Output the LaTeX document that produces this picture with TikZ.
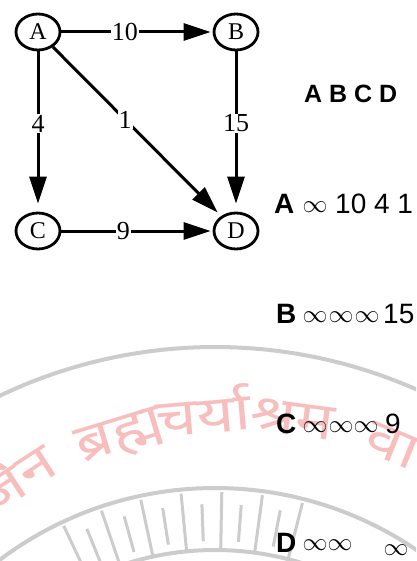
\documentclass[tikz,border=0pt]{standalone}
\usepackage{fontspec}
\newfontfamily\tabfont{Liberation Sans}
\newfontfamily\grfont{Liberation Serif}
\newfontfamily\devafont[Script=Devanagari,FakeStretch=1.25]{Noto Sans}
\usetikzlibrary{arrows.meta,shapes.geometric}
\definecolor{wmgray}{RGB}{204,204,204}
\definecolor{wmpink}{RGB}{248,190,190}
\begin{document}
\begin{tikzpicture}[x=1pt,y=-1pt,
  vtx/.style={draw, ellipse, line width=2.8pt, minimum width=44pt, minimum height=36pt, inner sep=0pt, font=\grfont\fontsize{24}{24}\selectfont},
  edge/.style={line width=3pt, -{Triangle[length=27pt,width=17pt]}},
  lbl/.style={fill=white, inner sep=1pt, font=\grfont\fontsize{26}{26}\selectfont},
  tabhd/.style={font=\tabfont\bfseries\fontsize{25}{25}\selectfont, inner sep=0pt, anchor=base west},
  tabrow/.style={font=\tabfont\bfseries\fontsize{28}{28}\selectfont, inner sep=0pt, anchor=base west},
  tabnum/.style={font=\tabfont\fontsize{28}{28}\selectfont, inner sep=0pt, anchor=base west},
  inf/.style={font=\fontsize{26}{26}\selectfont, inner sep=0pt},
  wmarc/.style={wmgray, line width=4pt},
  wmtick/.style={wmgray, line width=3pt},
  wmtxt/.style={text=wmpink, font=\devafont\fontsize{52}{52}\selectfont, inner sep=0pt, anchor=base}
]
\useasboundingbox (0,0) rectangle (416,561);
\fill[white] (0,0) rectangle (416,561);
% watermark
\begin{scope}
\clip (0,0) rectangle (416,561);
\begin{scope}[shift={(215,846)}, yscale=-1]
  \draw[wmarc] (55:499) arc[start angle=55, end angle=125, radius=499];
  \draw[wmarc] (45:358) arc[start angle=45, end angle=135, radius=358];
  \draw[wmarc] (60:296) arc[start angle=60, end angle=120, radius=296];
  \foreach \a in {75.7,82.3,88.9,95.5,102.1,108.7,115.3}
    \draw[wmtick] (\a:297) -- (\a:354);
  \foreach \a in {79,85.6,92.2,98.8,105.4,112}
    \draw[wmtick] (\a:305) -- (\a:342);
\end{scope}
\begin{scope}[shift={(239,824)}, yscale=-1]
  \node[wmtxt, rotate=33] (wm1) at (123:392) {जैन};
  \node[wmtxt, rotate=17] (wm2) at (107:392) {ब्रह्म};
  \node[wmtxt, rotate=5] (wm3) at (95:392) {चर्या};
  \node[wmtxt, rotate=-7.5] (wm4) at (82.5:392) {श्रम};
  \node[wmtxt, rotate=-22.1] (wm5) at (67.9:392) {वा};
\end{scope}
\end{scope}
% graph
\node[vtx] (A) at (38,32) {A};
\node[vtx] (B) at (236,32) {B};
\node[vtx] (C) at (38,231) {C};
\node[vtx] (D) at (236,231) {D};
\draw[edge, shorten >=2pt] (A) -- node[lbl, pos=0.42] (lAB) {10} (B);
\draw[edge, shorten >=8pt] (A) -- node[lbl, pos=0.45] (lAC) {4} (C);
\draw[edge, shorten >=5pt] (A) -- node[lbl, pos=0.43] (lAD) {1} (D);
\draw[edge, shorten >=8pt] (B) -- node[lbl, pos=0.45] (lBD) {15} (D);
\draw[edge, shorten >=2pt] (C) -- node[lbl, pos=0.41] (lCD) {9} (D);
% table
\node[tabhd] (hdr) at (304,103) {A B C D};
\node[tabrow] (ra) at (274,213) {A};
\node[inf] (ia1) at (315,207) {$\infty$};
\node[tabnum] (na) at (335,213) {10 4 1};
\node[tabrow] (rb) at (276,323) {B};
\node[inf] (ib1) at (315,317) {$\infty$};
\node[inf] (ib2) at (341,317) {$\infty$};
\node[inf] (ib3) at (367,317) {$\infty$};
\node[tabnum] (nb) at (383,323) {15};
\node[tabrow] (rc) at (276,433) {C};
\node[inf] (ic1) at (315,427) {$\infty$};
\node[inf] (ic2) at (341,427) {$\infty$};
\node[inf] (ic3) at (366,427) {$\infty$};
\node[tabnum] (nc) at (385,433) {9};
\node[tabrow] (rd) at (276,552) {D};
\node[inf] (id1) at (315,545) {$\infty$};
\node[inf] (id2) at (340,545) {$\infty$};
\node[inf] (id3) at (396,550) {$\infty$};
\end{tikzpicture}
\end{document}
